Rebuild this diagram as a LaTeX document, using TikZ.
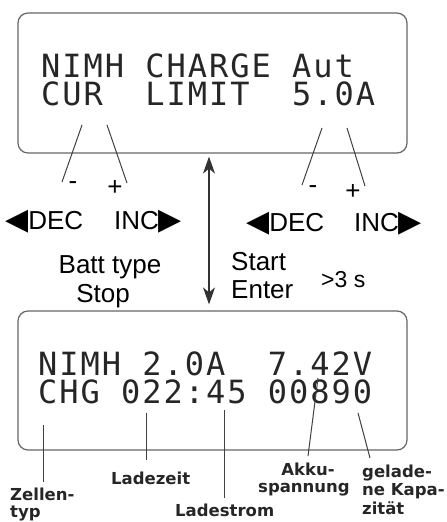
\documentclass[tikz,border=0pt]{standalone}
\usepackage{fontspec}
\setmainfont{Liberation Sans}
\newfontfamily\lcdfont{DejaVu Sans Mono}[LetterSpace=6.2]
\newfontfamily\notefont{DejaVu Sans}
\newcommand{\keytri}[1]{{\notefont\fontsize{30}{30}\selectfont #1}}
\usetikzlibrary{positioning,arrows.meta}

\begin{document}
\begin{tikzpicture}[x=1pt,y=-1pt,>={Stealth[length=17pt,width=12pt,inset=5pt]},
  lcd/.style={draw=black!60,line width=1.2pt,rounded corners=10pt,minimum width=389pt},
  lcdline/.style={font=\lcdfont\fontsize{32}{32}\selectfont,inner sep=0pt,anchor=base west,
    text height=24pt,text depth=0pt,text=black!85},
  key/.style={font=\fontsize{26}{26}\selectfont,inner sep=0pt,anchor=base west},
  note/.style={font=\notefont\bfseries\fontsize{16.5}{16.5}\selectfont,inner sep=0pt,anchor=base west,text=black!85},
  pin/.style={draw=black!75,line width=1pt}]
  \useasboundingbox (0,0) rectangle (447,522);

  % the two displays
  \node[lcd,minimum height=140pt] (upper) at (212.5,83) {};
  \node[lcd,minimum height=139pt] (lower) at (212.5,380.5) {};

  \node[lcdline] (mode) at (41,77) {NIMH CHARGE Aut};
  \node[lcdline] (limit) at (41,105) {CUR~~LIMIT~~5.0A};
  \node[lcdline] (state) at (38,375) {NIMH 2.0A~~7.42V};
  \node[lcdline] (count) at (38,403) {CHG 022:45 00890};

  % keys
  \node[key,anchor=base] (minusL) at (73,189) {-};
  \node[key,anchor=base] (plusL) at (115,195) {+};
  \node[key,anchor=base] (minusR) at (313,193) {-};
  \node[key,anchor=base] (plusR) at (353,199) {+};
  \node[key] (decL) at (5,229) {\keytri{◀}DEC};
  \node[key] (incL) at (114,229) {INC\keytri{▶}};
  \node[key] (decR) at (246,231) {\keytri{◀}DEC};
  \node[key] (incR) at (354,231) {INC\keytri{▶}};
  \node[key,anchor=base] (batt) at (110,273) {Batt type};
  \node[key,anchor=base] (stop) at (103,302) {Stop};
  \node[key] (start) at (231,270) {Start};
  \node[key] (enter) at (231,298) {Enter};
  \node[key,font=\fontsize{23}{23}\selectfont] (hold) at (321,287) {>3 s};

  % notes
  \node[note] (zelle) at (10,500) {Zellen-};
  \node[note] (typ) at (10,517) {typ};
  \node[note] (zeit) at (111,484) {Ladezeit};
  \node[note] (strom) at (175,516) {Ladestrom};
  \node[note,anchor=base] (akku) at (308,475) {Akku-};
  \node[note,anchor=base] (spann) at (304,492) {spannung};
  \node[note] (gel) at (362,477) {gelade-};
  \node[note] (kap) at (362,495) {ne Kapa-};
  \node[note] (zit) at (362,514) {zität};

  % pointers
  \foreach \ax/\ay/\bx/\by [count=\i] in {82/125/62/182, 107/125/127/183, 322/128/302/185, 347/128/365/186,
      43/425/43/482, 146/413/146/460, 224/410/224/498, 318/378/308/456, 358/413/370/458}{
    \coordinate (p\i a) at (\ax,\ay);
    \coordinate (p\i b) at (\bx,\by);
    \draw[pin] (p\i a) -- (p\i b);
  }

  \coordinate (mid) at (209,0);
  \draw[<->,line width=1.1pt,black!80] ([yshift=-3pt]upper.south -| mid) -- ([yshift=6pt]lower.north -| mid);
\end{tikzpicture}
\end{document}
